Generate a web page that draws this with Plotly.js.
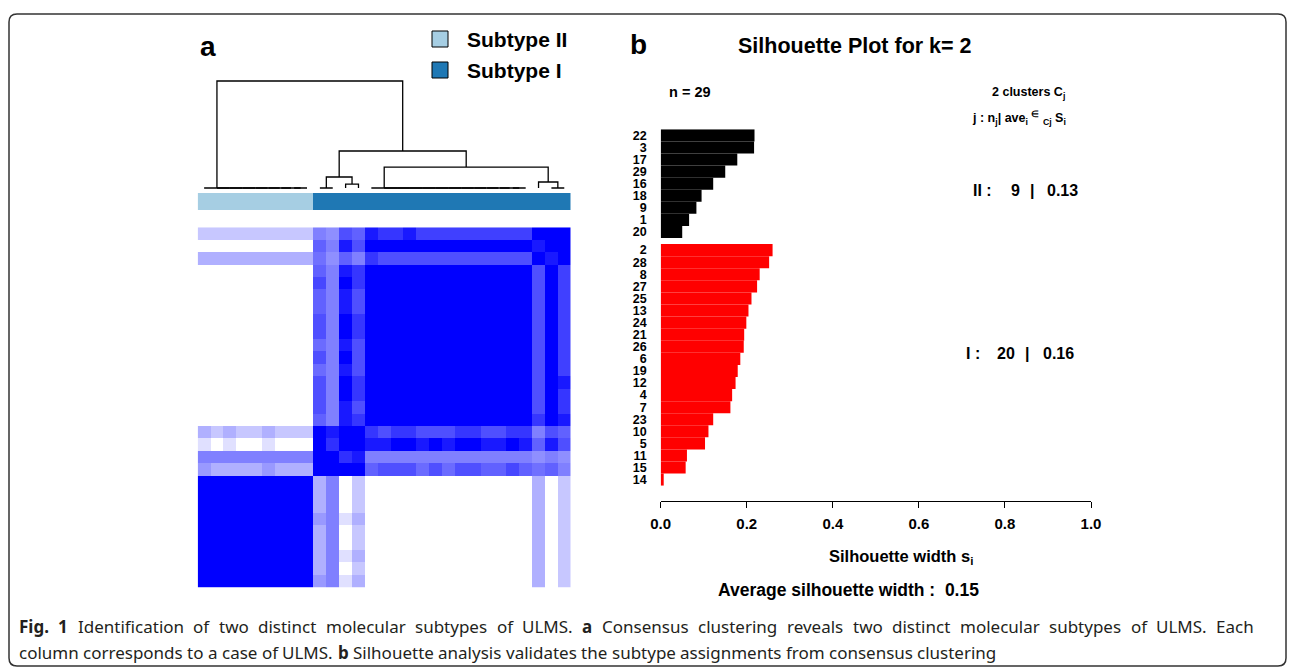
<!DOCTYPE html>
<html><head><meta charset="utf-8">
<script src="https://cdn.plot.ly/plotly-3.0.1.min.js"></script>
<style>html,body{margin:0;padding:0;background:#fff;}#chart{width:1290px;height:668px;}</style>
</head><body><div id="chart"></div>
<script>
// ---------------- DATA ----------------
// heatmap column order (1..29); first 9 columns = Subtype II, rest = Subtype I
const columnIds = [1,2,3,4,5,6,7,8,9,10,11,12,13,14,15,16,17,18,19,20,21,22,23,24,25,26,27,28,29];
const columnSubtype = [0,0,0,0,0,0,0,0,0,1,1,1,1,1,1,1,1,1,1,1,1,1,1,1,1,1,1,1,1];
const subtypeNames = ["Subtype II","Subtype I"];
const subtypeColors = ["#A6CEE3","#1F78B4"];
// consensus matrix, one row per column position (row 1 drawn at bottom)
const consensusRows = [
 [1,1,1,1,1,1,1,1,1, .40,.50,.12,.31, 0,0,0,0,0,0,0,0,0,0,0,0,0, .31,0,.22],
 [1,1,1,1,1,1,1,1,1, .31,.50,0,.22, 0,0,0,0,0,0,0,0,0,0,0,0,0, .31,0,.22],
 [1,1,1,1,1,1,1,1,1, .31,.50,.12,.31, 0,0,0,0,0,0,0,0,0,0,0,0,0, .31,0,.22],
 [1,1,1,1,1,1,1,1,1, .31,.50,0,.22, 0,0,0,0,0,0,0,0,0,0,0,0,0, .31,0,.22],
 [1,1,1,1,1,1,1,1,1, .31,.50,0,.22, 0,0,0,0,0,0,0,0,0,0,0,0,0, .31,0,.22],
 [1,1,1,1,1,1,1,1,1, .40,.50,.12,.31, 0,0,0,0,0,0,0,0,0,0,0,0,0, .31,0,.22],
 [1,1,1,1,1,1,1,1,1, .31,.50,0,.22, 0,0,0,0,0,0,0,0,0,0,0,0,0, .31,0,.22],
 [1,1,1,1,1,1,1,1,1, .31,.50,0,.22, 0,0,0,0,0,0,0,0,0,0,0,0,0, .31,0,.22],
 [1,1,1,1,1,1,1,1,1, .31,.50,0,.22, 0,0,0,0,0,0,0,0,0,0,0,0,0, .31,0,.22],
 [.40,.31,.31,.31,.31,.40,.31,.31,.31, 1,1,1,1, .62,.69,.69,.69,.58,.69,.58,.69,.69,.62,.62,.72,.62, .56,.62,.50],
 [.50,.50,.50,.50,.50,.50,.50,.50,.50, 1,1,.81,.90, .50,.50,.50,.50,.50,.50,.50,.50,.50,.50,.50,.50,.50, .44,.50,.44],
 [.12,0,.12,0,0,.12,0,0,0, 1,.81,1,1, .90,.90,1,1,.90,1,.90,1,1,.90,.90,1,.90, .62,.90,.69],
 [.31,.22,.31,.22,.22,.31,.22,.22,.22, 1,.90,1,1, .79,.69,.79,.79,.69,.69,.69,.79,.79,.69,.69,.79,.79, .50,.69,.62],
 [0,0,0,0,0,0,0,0,0, .62,.50,.90,.79, 1,1,1,1,1,1,1,1,1,1,1,1,1, .79,1,.90],
 [0,0,0,0,0,0,0,0,0, .69,.50,.90,.69, 1,1,1,1,1,1,1,1,1,1,1,1,1, .69,1,.79],
 [0,0,0,0,0,0,0,0,0, .69,.50,1,.79, 1,1,1,1,1,1,1,1,1,1,1,1,1, .69,1,.79],
 [0,0,0,0,0,0,0,0,0, .69,.50,1,.79, 1,1,1,1,1,1,1,1,1,1,1,1,1, .69,1,.90],
 [0,0,0,0,0,0,0,0,0, .58,.50,.90,.69, 1,1,1,1,1,1,1,1,1,1,1,1,1, .69,1,.75],
 [0,0,0,0,0,0,0,0,0, .69,.50,1,.69, 1,1,1,1,1,1,1,1,1,1,1,1,1, .69,1,.75],
 [0,0,0,0,0,0,0,0,0, .58,.50,.90,.69, 1,1,1,1,1,1,1,1,1,1,1,1,1, .69,1,.75],
 [0,0,0,0,0,0,0,0,0, .69,.50,1,.79, 1,1,1,1,1,1,1,1,1,1,1,1,1, .69,1,.75],
 [0,0,0,0,0,0,0,0,0, .69,.50,1,.79, 1,1,1,1,1,1,1,1,1,1,1,1,1, .69,1,.75],
 [0,0,0,0,0,0,0,0,0, .62,.50,.90,.69, 1,1,1,1,1,1,1,1,1,1,1,1,1, .69,1,.75],
 [0,0,0,0,0,0,0,0,0, .62,.50,.90,.69, 1,1,1,1,1,1,1,1,1,1,1,1,1, .69,1,.75],
 [0,0,0,0,0,0,0,0,0, .72,.50,1,.79, 1,1,1,1,1,1,1,1,1,1,1,1,1, .69,1,.75],
 [0,0,0,0,0,0,0,0,0, .62,.50,.90,.79, 1,1,1,1,1,1,1,1,1,1,1,1,1, .69,1,.75],
 [.31,.31,.31,.31,.31,.31,.31,.31,.31, .56,.44,.62,.50, .79,.69,.69,.69,.69,.69,.69,.69,.69,.69,.69,.69,.69, 1,.90,1],
 [0,0,0,0,0,0,0,0,0, .62,.50,.90,.69, 1,1,1,1,1,1,1,1,1,1,1,1,1, .90,1,1],
 [.22,.22,.22,.22,.22,.22,.22,.22,.22, .50,.44,.69,.62, .90,.79,.79,.90,.75,.75,.75,.75,.75,.75,.75,.75,.75, 1,1,1]
];
// dendrogram: [mergeHeight, left, right]; leaves are column positions
const dendroTree = [1.0,
  [0, 1, [0, 2, [0, 3, [0, 4, [0, 5, [0, 6, [0, 7, [0, 8, 9]]]]]]]],
  [0.346,
    [0.103, [0, 10, 11], [0.037, 12, 13]],
    [0.196,
      [0, 14, [0, 15, [0, 16, [0, 17, [0, 18, [0, 19, [0, 20, [0, 21, [0, 22, [0, 23, [0, 24, [0, 25, 26]]]]]]]]]]]],
      [0.056, 27, [0, 28, 29]]]]];

// silhouette plot (k = 2)
const silLabels = ["22","3","17","29","16","18","9","1","20",
  "2","28","8","27","25","13","24","21","26","6","19","12","4","7","23","10","5","11","15","14"];
const silWidths = [0.218,0.217,0.178,0.150,0.122,0.095,0.083,0.066,0.050,
  0.260,0.252,0.230,0.224,0.211,0.204,0.199,0.194,0.193,0.185,0.179,0.174,0.166,0.162,0.122,0.111,0.103,0.061,0.058,0.007];
const silCluster = ["II","II","II","II","II","II","II","II","II",
  "I","I","I","I","I","I","I","I","I","I","I","I","I","I","I","I","I","I","I","I"];
const clusterNames = ["II","I"];
const clusterColors = ["#000000","#FF0000"];
const clusterSizes = ["9","20"];
const clusterAvgWidth = ["0.13","0.16"];
const avgSilWidth = "0.15";
const silTicks = [0,0.2,0.4,0.6,0.8,1.0];

const captionLines = [
  "<b>Fig. 1</b> Identification of two distinct molecular subtypes of ULMS. <b>a</b> Consensus clustering reveals two distinct molecular subtypes of ULMS. Each",
  "column corresponds to a case of ULMS. <b>b</b> Silhouette analysis validates the subtype assignments from consensus clustering"
];

// ---------------- LAYOUT HELPERS ----------------
const W = 1290, H = 668;
const px = x => x / W;
const py = y => 1 - y / H;
const BOLD = "Liberation Sans, Arial, sans-serif";
const CAP = "Noto Sans";
const CAPSIZE = 17;

// dendrogram segments
const dx = [], dy = [];
function walk(node) {
  if (typeof node === "number") return {x: node, h: 0};
  const h = node[0], L = walk(node[1]), R = walk(node[2]);
  dx.push(L.x, L.x, R.x, R.x, null);
  dy.push(L.h, h, h, R.h, null);
  return {x: (L.x + R.x) / 2, h: h};
}
walk(dendroTree);

// silhouette bar positions (gap of half a bar between clusters)
const silPos = [];
let p = 0;
for (let i = 0; i < silCluster.length; i++) {
  if (i > 0 && silCluster[i] !== silCluster[i-1]) p += 0.5;
  silPos.push(p); p += 1;
}

const traces = [
  {type:"heatmap", x: columnIds, y: columnIds, z: consensusRows, zmin:0, zmax:1,
   colorscale:[[0,"#FFFFFF"],[1,"#0000FF"]], showscale:false, hoverinfo:"skip", xaxis:"x", yaxis:"y"},
  {type:"heatmap", x: columnIds, y:[0], z:[columnSubtype], zmin:0, zmax:1,
   colorscale:[[0,subtypeColors[0]],[0.5,subtypeColors[0]],[0.5,subtypeColors[1]],[1,subtypeColors[1]]],
   showscale:false, hoverinfo:"skip", xaxis:"x2", yaxis:"y2"},
  {type:"scatter", mode:"lines", x: dx, y: dy, line:{color:"#000", width:1.3},
   hoverinfo:"skip", showlegend:false, xaxis:"x3", yaxis:"y3"}
];
clusterNames.forEach((c, ci) => {
  const xs = [], ys = [];
  silCluster.forEach((k, i) => { if (k === c) { xs.push(silWidths[i]); ys.push(silPos[i]); } });
  traces.push({type:"bar", orientation:"h", x: xs, y: ys, base:0, width:1,
    marker:{color: clusterColors[ci], line:{width:0}}, hoverinfo:"skip", showlegend:false,
    xaxis:"x4", yaxis:"y4"});
});

const hmX = [197.7, 570.7];
const hidden = {visible:false, fixedrange:true, showgrid:false, zeroline:false};
const layout = {
  width: W, height: H, margin:{l:0,r:0,t:0,b:0}, paper_bgcolor:"#fff", plot_bgcolor:"rgba(0,0,0,0)",
  showlegend:false, barmode:"overlay",
  xaxis: Object.assign({domain:[px(hmX[0]), px(hmX[1])], range:[0.5,29.5], anchor:"y"}, hidden),
  yaxis: Object.assign({domain:[py(587.7), py(227.3)], range:[0.5,29.5], anchor:"x"}, hidden),
  xaxis2: Object.assign({domain:[px(hmX[0]), px(hmX[1])], range:[0.5,29.5], anchor:"y2"}, hidden),
  yaxis2: Object.assign({domain:[py(210), py(193)], range:[-0.5,0.5], anchor:"x2"}, hidden),
  xaxis3: Object.assign({domain:[px(hmX[0]), px(hmX[1])], range:[0.5,29.5], anchor:"y3"}, hidden),
  yaxis3: Object.assign({domain:[py(190), py(78)], range:[-2/107, 110/107], anchor:"x3"}, hidden),
  xaxis4: {domain:[px(660.7), px(1091)], range:[0,1], anchor:"free", position: py(500.7),
    showline:true, linecolor:"#000", linewidth:1, ticks:"outside", ticklen:6, tickwidth:1, tickcolor:"#000",
    tickvals: silTicks, tickformat:".1f", showgrid:false, zeroline:false, fixedrange:true,
    ticklabelstandoff: 3,
    tickfont:{family:BOLD, size:15, color:"#000", weight:"bold"}},
  yaxis4: {domain:[py(485.7), py(129.3)], range:[29,-0.5], anchor:"x4",
    tickvals: silPos, ticktext: silLabels, ticks:"", showline:false, showgrid:false, zeroline:false,
    fixedrange:true, ticklabelstandoff: 13,
    tickfont:{family:BOLD, size:12.5, color:"#000", weight:"bold"}},
  shapes: [], annotations: []
};

// outer rounded frame
(function(){
  const x0=9, y0=14, x1=1286, y1=666, r=8;
  const X = v => px(v), Y = v => py(v);
  const path = `M ${X(x0+r)},${Y(y0)} L ${X(x1-r)},${Y(y0)} Q ${X(x1)},${Y(y0)} ${X(x1)},${Y(y0+r)} `+
    `L ${X(x1)},${Y(y1-r)} Q ${X(x1)},${Y(y1)} ${X(x1-r)},${Y(y1)} L ${X(x0+r)},${Y(y1)} `+
    `Q ${X(x0)},${Y(y1)} ${X(x0)},${Y(y1-r)} L ${X(x0)},${Y(y0+r)} Q ${X(x0)},${Y(y0)} ${X(x0+r)},${Y(y0)} Z`;
  layout.shapes.push({type:"path", xref:"paper", yref:"paper", path, line:{color:"#333333", width:1.5}});
})();

// legend boxes
const legendY = [39, 70];
subtypeNames.forEach((n, i) => {
  layout.shapes.push({type:"rect", xref:"paper", yref:"paper",
    x0:px(432), x1:px(448), y0:py(legendY[i]+8), y1:py(legendY[i]-8),
    fillcolor: subtypeColors[i], line:{color:"#000", width:1}});
  layout.annotations.push({xref:"paper", yref:"paper", x:px(465), y:py(legendY[i]), text:n,
    xanchor:"left", yanchor:"middle", showarrow:false,
    font:{family:BOLD, size:21, color:"#000", weight:"bold"}});
});

function ann(x, y, text, size, xanchor, extra) {
  layout.annotations.push(Object.assign({xref:"paper", yref:"paper", x:px(x), y:py(y), text,
    xanchor: xanchor || "center", yanchor:"middle", showarrow:false,
    font:{family:BOLD, size, color:"#000", weight:"bold"}}, extra || {}));
}
ann(198, 46, "a", 28, "left");
ann(628, 45, "b", 28, "left");
ann(855, 46, "Silhouette Plot for k= 2", 21.5);
ann(667, 92, "n = " + silCluster.length, 14.5, "left");
ann(1067, 93, "2 clusters C<sub>j</sub>", 12.5, "right");
ann(1068, 118, "j : n<sub>j</sub>| ave<sub>i</sub> <sup>∈</sup> <sub>Cj</sub> S<sub>i</sub>", 12.5, "right");
// cluster summary rows
const sumY = [190, 353];
const sumCols = [[983, 1015.5, 1032, 1062.5], [973, 1006, 1027, 1058]];
clusterNames.forEach((c, i) => {
  const cx = sumCols[i];
  ann(cx[0], sumY[i], c + " :", 16);
  ann(cx[1], sumY[i], clusterSizes[i], 16);
  ann(cx[2], sumY[i], "|", 16);
  ann(cx[3], sumY[i], clusterAvgWidth[i], 16);
});
ann(827, 557, "Silhouette width s<sub>i</sub>", 16.5, "left");
ann(716, 590, "Average silhouette width :  " + avgSilWidth, 17.5, "left");

// caption: justified first line, natural second line (word widths measured on a canvas)
const ctx = document.createElement("canvas").getContext("2d");
function tokens(line) {
  const out = []; let bold = false;
  line.split(" ").forEach(t => {
    if (t.includes("<b>")) bold = true;
    const isBold = bold;
    if (t.includes("</b>")) bold = false;
    out.push({plain: t.replace(/<\/?b>/g, ""), bold: isBold});
  });
  return out;
}
function measure(tok) {
  ctx.font = (tok.bold ? "bold " : "") + CAPSIZE + "px '" + CAP + "'";
  return ctx.measureText(tok.plain).width;
}
const capLeft = 18, capRight = 1253, capY = [626, 652];
captionLines.forEach((line, li) => {
  const toks = tokens(line);
  const widths = toks.map(measure);
  ctx.font = CAPSIZE + "px '" + CAP + "'";
  let gap = ctx.measureText(" ").width;
  if (li === 0) {
    const total = widths.reduce((a, b) => a + b, 0);
    gap = (capRight - capLeft - total) / (toks.length - 1);
  }
  let x = capLeft;
  toks.forEach((t, i) => {
    layout.annotations.push({xref:"paper", yref:"paper", x:px(x - 1), y:py(capY[li]), xanchor:"left", yanchor:"middle",
      showarrow:false, font:{family:CAP, size:CAPSIZE, color:"#231F20"},
      text: t.bold ? "<b>" + t.plain + "</b>" : t.plain});
    x += widths[i] + gap;
  });
});

Plotly.newPlot("chart", traces, layout, {displayModeBar:false, staticPlot:true});
</script></body></html>
